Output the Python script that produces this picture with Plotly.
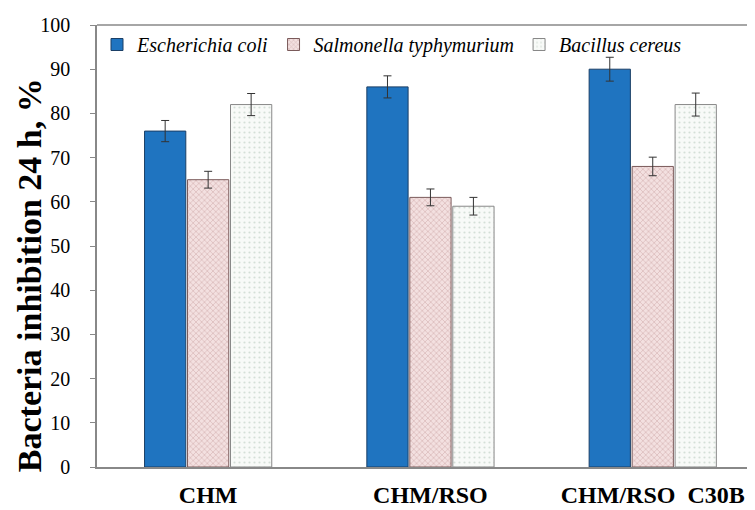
import plotly.graph_objects as go

categories = ["CHM", "CHM/RSO", "CHM/RSO\u00a0\u00a0C30B"]
series_names = ["Escherichia coli", "Salmonella typhymurium", "Bacillus cereus"]
ecoli = [76, 86, 90]
salmonella = [65, 61, 68]
bacillus = [82, 59, 82]
ecoli_err = [2.4, 2.5, 2.7]
salmonella_err = [1.9, 1.9, 2.1]
bacillus_err = [2.5, 2.0, 2.6]
y_ticks = [0, 10, 20, 30, 40, 50, 60, 70, 80, 90, 100]
y_title = "Bacteria inhibition 24 h, %"

serif = "Liberation Serif"

fig = go.Figure()
fig.add_trace(go.Bar(
    name=series_names[0], x=categories, y=ecoli,
    marker=dict(color="#1f74c0", line=dict(color="#1b3f66", width=1)),
    error_y=dict(type="data", array=ecoli_err, color="#333333", thickness=1, width=4),
))
fig.add_trace(go.Bar(
    name=series_names[1], x=categories, y=salmonella,
    marker=dict(color="#f2dede", line=dict(color="#7a5a5a", width=1),
                pattern=dict(shape="x", fgcolor="#b88888", bgcolor="#f3e0e0", size=4, solidity=0.3)),
    error_y=dict(type="data", array=salmonella_err, color="#333333", thickness=1, width=4),
))
fig.add_trace(go.Bar(
    name=series_names[2], x=categories, y=bacillus,
    marker=dict(color="#f6f8f6", line=dict(color="#888888", width=1),
                pattern=dict(shape=".", fgcolor="#b0c4b6", bgcolor="#f8faf8", size=5, solidity=0.15)),
    error_y=dict(type="data", array=bacillus_err, color="#333333", thickness=1, width=4),
))

fig.update_layout(
    width=755, height=510,
    margin=dict(l=89, r=8, t=17, b=51, autoexpand=False),
    paper_bgcolor="white", plot_bgcolor="white",
    barmode="group", bargap=0.42, bargroupgap=0.04,
    font=dict(family=serif, color="black"),
    legend=dict(
        orientation="h", x=0, y=1.0, xanchor="left", yanchor="top",
        font=dict(family=serif, size=20, style="italic", color="black"),
        bgcolor="rgba(0,0,0,0)", itemwidth=30,
    ),
    showlegend=True,
)
fig.update_xaxes(
    range=[-0.5, 2.46], showline=True, linecolor="#888888", linewidth=1.5,
    ticks="", tickfont=dict(family=serif, size=24, color="black", weight="bold"),
    ticklabelstandoff=5, tickangle=0, automargin=False,
)
fig.update_yaxes(
    range=[0, 100], tickvals=y_ticks, showline=True, linecolor="#888888", linewidth=1.5,
    ticks="outside", ticklen=5, tickcolor="#888888", showgrid=False,
    tickfont=dict(family=serif, size=20, color="black"),
    ticklabelstandoff=16, automargin=False,
    zeroline=False,
)
fig.add_annotation(
    text=y_title, textangle=-90, xref="paper", yref="paper", x=0, y=0.434,
    xshift=-68, xanchor="center", yanchor="middle", showarrow=False,
    font=dict(family=serif, size=34, color="black", weight="bold"),
)
# top frame line
fig.add_shape(type="line", xref="paper", yref="paper", x0=0, x1=1, y0=1, y1=1,
              line=dict(color="#888888", width=1.5))

fig.write_html("out.html")
